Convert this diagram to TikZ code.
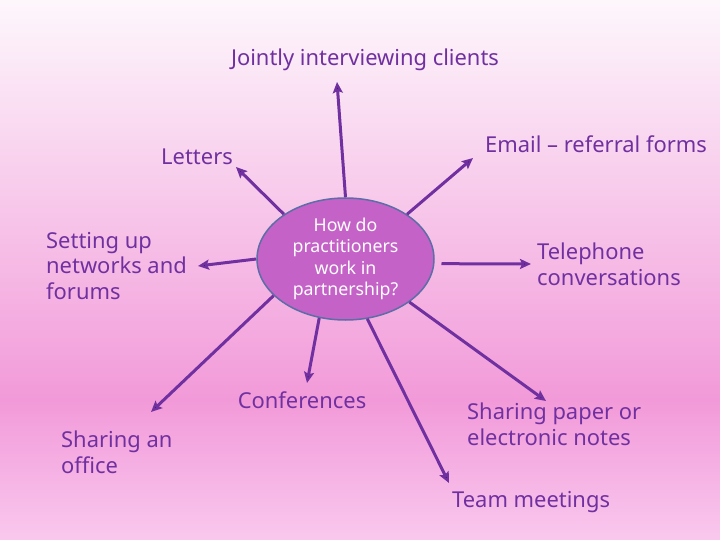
\documentclass[tikz,border=0pt]{standalone}
\usepackage{fontspec}
\setmainfont{Noto Sans}
\newfontfamily\hubfont{Noto Sans}
\usetikzlibrary{shapes.geometric,arrows.meta}
\definecolor{ink}{HTML}{7030A0}
\definecolor{hubfill}{HTML}{C462C8}
\definecolor{hubline}{HTML}{5B6EA6}
\definecolor{bgtop}{HTML}{FDF7FC}
\definecolor{bgmid}{HTML}{F29AD9}
\definecolor{bgbot}{HTML}{F9C8EE}
\tikzset{
  >={Stealth[length=11bp,width=10bp,inset=2bp]},
  topic/.style={text=ink, font=\fontsize{22}{26}\selectfont, inner sep=0pt},
  hub/.style={ellipse, draw=hubline, line width=1.5bp, fill=hubfill,
    minimum width=177bp, minimum height=122bp, inner sep=0pt,
    text=white, align=center, font=\hubfont\fontsize{17.8}{21.5}\selectfont},
  spoke/.style={draw=ink, line width=3bp, every edge/.append style={->}},
}

\begin{document}
\begin{tikzpicture}[x=1bp, y=-1bp]
    % background
    \fill[top color=bgtop, bottom color=bgmid] (0,0) rectangle (720,400);
    \fill[top color=bgmid, bottom color=bgbot] (0,400) rectangle (720,540);
    \useasboundingbox (0,0) rectangle (720,540);

    \node[hub] (hub) at (345.5,259) {How do\\practitioners\\work in\\partnership?};

    \node[topic] (joint) at (365,60) {Jointly interviewing clients};
    \node[topic, anchor=east] (letters) at (233,157) {Letters};
    \node[topic, anchor=west] (email) at (485,144) {Email -- referral forms};
    \node[topic, anchor=west, align=left] (networks) at (46,266) {Setting up\\networks and\\forums};
    \node[topic, anchor=west, align=left] (phone) at (537,264) {Telephone\\conversations};
    \node[topic] (conf) at (302,400) {Conferences};
    \node[topic, anchor=west, align=left] (notes) at (467,424) {Sharing paper or\\electronic notes};
    \node[topic, anchor=west, align=left] (office) at (61,452) {Sharing an\\office};
    \node[topic, anchor=west] (team) at (452,502) {Team meetings};

    \coordinate (tJoint) at (337,82);
    \coordinate (tLetters) at (236,167);
    \coordinate (tEmail) at (473,158);
    \coordinate (tNetworks) at (198,266);
    \coordinate (tPhone) at (531,264);
    \coordinate (tConf) at (307,383);
    \coordinate (tNotes) at (546,401);
    \coordinate (tOffice) at (151,412);
    \coordinate (tTeam) at (449,483);

    \path[spoke]
      (hub.90)  edge (tJoint)
      (hub.144) edge (tLetters)
      (hub.36)  edge (tEmail)
      (hub.180) edge (tNetworks)
      (hub.-3)  edge[shorten <=7bp] (tPhone)
      (hub.246) edge (tConf)
      (hub.290) edge (tTeam)
      (hub.326) edge (tNotes)
      (hub.207) edge (tOffice);
\end{tikzpicture}
\end{document}
